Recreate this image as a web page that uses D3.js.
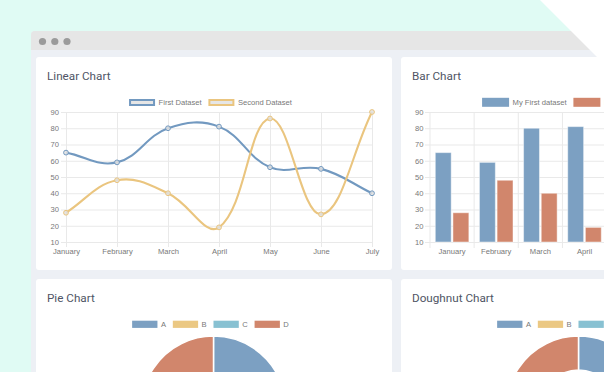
<!DOCTYPE html>
<html><head><meta charset="utf-8">
<script src="https://cdn.jsdelivr.net/npm/d3@7"></script>
<style>html,body{margin:0;padding:0;overflow:hidden;background:#fff}svg{display:block}</style>
</head><body><svg id="c" width="604" height="372"></svg>
<script>
// ---- data ----
const months = ["January","February","March","April","May","June","July"];
const lineSeriesNames = ["First Dataset","Second Dataset"];
const lineFirst = [65,59,80,81,56,55,40];
const lineSecond = [28,48,40,19,86,27,90];
const barSeriesNames = ["My First dataset","My Second dataset"];
const barFirst = [65,59,80,81,56,55,40];
const barSecond = [28,48,40,19,86,27,90];
const yTicks = [10,20,30,40,50,60,70,80,90];
const pieLabels = ["A","B","C","D"];
const pieValues = [300,150,100,250];
const doughnutValues = [300,150,100,250];
const titles = ["Linear Chart","Bar Chart","Pie Chart","Doughnut Chart"];

// ---- styles ----
const COL = {blue:"#7ca0c2", lineBlue:"#7299c0", yellow:"#ebc883", lineYellow:"#eac57f", cyan:"#88c1d2", red:"#d1866c"};
const pieColors = [COL.blue, COL.yellow, COL.cyan, COL.red];
const LABEL_FONT = "'Liberation Sans', Arial, sans-serif";
const LABEL_SIZE = 7.6;
const LABEL_COL = "#787878";
const GRID = "#e9e9e9";
const VIEW_W = 604;

const svg = d3.select("#c");

// background
svg.append("rect").attr("width",604).attr("height",372).attr("fill","#e0fbf4");
// window
svg.append("rect").attr("x",31).attr("y",31).attr("width",700).attr("height",400).attr("rx",4).attr("fill","#edf0f5");
svg.append("rect").attr("x",31).attr("y",31).attr("width",700).attr("height",19).attr("rx",4).attr("fill","#e6e6e6");
svg.append("rect").attr("x",31).attr("y",40).attr("width",700).attr("height",10).attr("fill","#e6e6e6");
[42.5,54.8,67].forEach(cx=>svg.append("circle").attr("cx",cx).attr("cy",41.5).attr("r",3.6).attr("fill","#9b9b9b"));

// cards
const cards = [[36,57,356,213],[401,57,356,213],[36,279,356,200],[401,279,356,200]];
cards.forEach(c=>svg.append("rect").attr("x",c[0]).attr("y",c[1]).attr("width",c[2]).attr("height",c[3]).attr("rx",3).attr("fill","#fff"));
const titlePos = [[47,79.5],[412,79.5],[47,301.5],[412,301.5]];
titles.forEach((t,i)=>svg.append("text").attr("x",titlePos[i][0]).attr("y",titlePos[i][1])
  .attr("font-family","Roboto, 'Noto Sans', sans-serif").attr("font-size",11.7).attr("fill","#4f5565").text(t));

function styleText(sel){
  sel.attr("font-family",LABEL_FONT).attr("font-size",LABEL_SIZE).attr("fill",LABEL_COL);
}

function legend(cx, y, items, boxW, boxH){
  const gap=3.5, spacing=6.8;
  const g = svg.append("g");
  let x=0;
  items.forEach(it=>{
    const sw = it.strokeWidth||0;
    g.append("rect").attr("x",x+sw/2).attr("y",y+sw/2).attr("width",boxW-sw).attr("height",boxH-sw)
      .attr("fill",it.fill).attr("stroke",it.stroke||"none").attr("stroke-width",sw);
    const t = g.append("text").attr("x",x+boxW+gap).attr("y",y+boxH/2).attr("dy","0.35em").text(it.label);
    styleText(t);
    x += boxW+gap+t.node().getComputedTextLength()+spacing;
  });
  const total = x-spacing;
  g.attr("transform",`translate(${cx-total/2},0)`);
}

function chartJsCurve(tension, top, bottom){
  return function(context){
    let pts;
    return {
      areaStart(){}, areaEnd(){},
      lineStart(){ pts=[]; },
      point(x,y){ pts.push({x:+x,y:+y}); },
      lineEnd(){
        const n=pts.length; if(!n) return;
        const clampY=v=>Math.max(top,Math.min(bottom,v));
        const cps = pts.map((p,i)=>{
          const prev=pts[i-1]||p, next=pts[i+1]||p;
          const d01=Math.hypot(p.x-prev.x,p.y-prev.y), d12=Math.hypot(next.x-p.x,next.y-p.y);
          let s01=d01/(d01+d12), s12=d12/(d01+d12);
          if(isNaN(s01)) s01=0; if(isNaN(s12)) s12=0;
          const fa=tension*s01, fb=tension*s12;
          return {px:p.x-fa*(next.x-prev.x), py:clampY(p.y-fa*(next.y-prev.y)),
                  nx:p.x+fb*(next.x-prev.x), ny:clampY(p.y+fb*(next.y-prev.y))};
        });
        context.moveTo(pts[0].x,pts[0].y);
        for(let i=1;i<n;i++) context.bezierCurveTo(cps[i-1].nx,cps[i-1].ny,cps[i].px,cps[i].py,pts[i].x,pts[i].y);
      }
    };
  };
}

// ---- Line chart ----
(function(){
  const L=66, R=372, T=112, B=242;
  const x = d3.scalePoint().domain(months).range([L,R]);
  const y = d3.scaleLinear().domain([10,90]).range([B,T]);
  const gy = svg.append("g").attr("transform",`translate(${L},0)`)
    .call(d3.axisLeft(y).tickValues(yTicks).tickSizeInner(-(R-L)).tickSizeOuter(0).tickPadding(7));
  gy.select(".domain").remove();
  gy.selectAll("line").attr("x1",-5).attr("stroke",GRID);
  styleText(gy.selectAll("text"));
  const gx = svg.append("g").attr("transform",`translate(0,${B})`)
    .call(d3.axisBottom(x).tickSizeInner(-(B-T)).tickSizeOuter(0).tickPadding(6.5));
  gx.select(".domain").remove();
  gx.selectAll("line").attr("y1",5).attr("stroke",GRID);
  styleText(gx.selectAll("text"));

  const series = [{vals:lineFirst,col:COL.lineBlue},{vals:lineSecond,col:COL.lineYellow}];
  const line = d3.line().x((d,i)=>x(months[i])).y(d=>y(d)).curve(chartJsCurve(0.4,T,B));
  series.forEach(s=>{
    svg.append("path").attr("d",line(s.vals)).attr("fill","none").attr("stroke",s.col).attr("stroke-width",2.1);
  });
  series.forEach(s=>{
    svg.append("g").selectAll("circle").data(s.vals).join("circle")
      .attr("cx",(d,i)=>x(months[i])).attr("cy",d=>y(d)).attr("r",2.4)
      .attr("fill","rgba(225,225,225,0.85)").attr("stroke",s.col).attr("stroke-width",1);
  });
  legend(210.5, 99, [
    {label:lineSeriesNames[0], fill:"#e6e6e6", stroke:COL.lineBlue, strokeWidth:2},
    {label:lineSeriesNames[1], fill:"#e6e6e6", stroke:COL.lineYellow, strokeWidth:2}
  ], 26, 7);
})();

// ---- Bar chart ----
(function(){
  const L=430, R=739, T=112, B=242;
  const x = d3.scaleBand().domain(months).range([L,R]);
  const bw = x.bandwidth();
  const xs = d3.scaleBand().domain([0,1]).range([bw*0.1,bw*0.9]).paddingInner(0.1).paddingOuter(0.05);
  const y = d3.scaleLinear().domain([10,90]).range([B,T]);
  const gy = svg.append("g").attr("transform",`translate(${L},0)`)
    .call(d3.axisLeft(y).tickValues(yTicks).tickSizeInner(-(R-L)).tickSizeOuter(0).tickPadding(6.5));
  gy.select(".domain").remove();
  gy.selectAll("line").attr("x1",-5).attr("stroke",GRID);
  styleText(gy.selectAll("text"));
  // vertical grid lines at category boundaries
  svg.append("g").selectAll("line").data(months.concat(["_end"])).join("line")
    .attr("x1",(d,i)=>i<months.length?x(d):R).attr("x2",(d,i)=>i<months.length?x(d):R)
    .attr("y1",T).attr("y2",B+6).attr("stroke",GRID);
  // category labels: only those whose band lies within the visible window (the rest is off-screen)
  const visibleMonths = months.filter(m=>x(m)+bw/2 < VIEW_W);
  const gx = svg.append("g").attr("transform",`translate(0,${B})`)
    .call(d3.axisBottom(x).tickValues(visibleMonths).tickSize(0).tickPadding(6.5));
  gx.select(".domain").remove();
  styleText(gx.selectAll("text"));
  const sets = [{vals:barFirst,col:COL.blue},{vals:barSecond,col:COL.red}];
  sets.forEach((s,si)=>{
    svg.append("g").selectAll("rect").data(s.vals).join("rect")
      .attr("x",(d,i)=>x(months[i])+xs(si)).attr("width",xs.bandwidth())
      .attr("y",d=>y(d)).attr("height",d=>B-y(d))
      .attr("fill",s.col).attr("stroke","rgba(255,255,255,0.45)").attr("stroke-width",1);
  });
  legend(575.5, 97.8, [
    {label:barSeriesNames[0], fill:COL.blue},
    {label:barSeriesNames[1], fill:COL.red}
  ], 27, 9);
})();

// ---- Pie & Doughnut ----
function pieChart(cx, cy, r, inner, values, legendCx){
  const pie = d3.pie().sort(null)(values);
  const arc = d3.arc().outerRadius(r).innerRadius(inner);
  svg.append("g").attr("transform",`translate(${cx},${cy})`)
    .selectAll("path").data(pie).join("path").attr("d",arc)
    .attr("fill",(d,i)=>pieColors[i]).attr("stroke","#fff").attr("stroke-width",1.5);
  legend(legendCx, 320.7, pieLabels.map((l,i)=>({label:l, fill:pieColors[i]})), 25.3, 7.2);
}
pieChart(213.5, 408, 72, 0, pieValues, 210.5);
pieChart(578.5, 408, 72, 38, doughnutValues, 575.5);

// white corner
svg.append("path").attr("d","M540,0L604,0L604,64Z").attr("fill","#fff");
</script>
</body></html>
